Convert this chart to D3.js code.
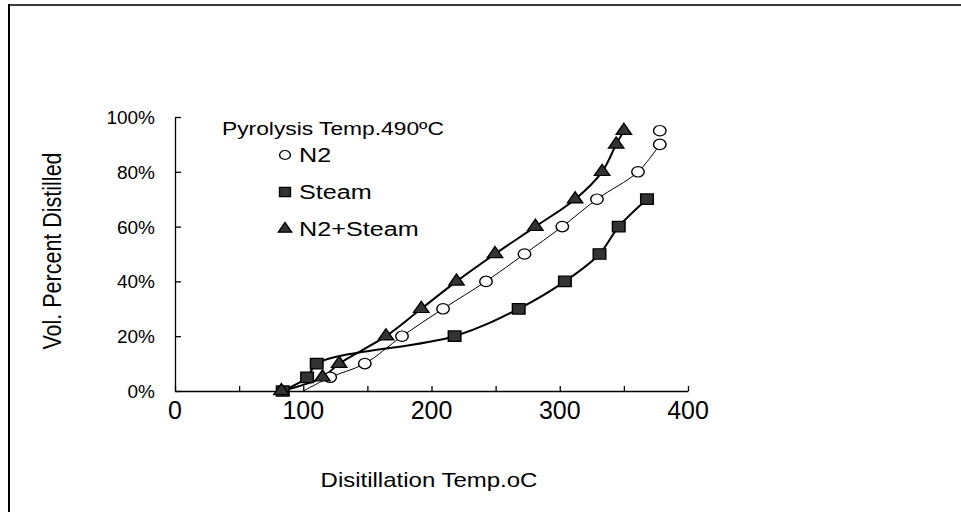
<!DOCTYPE html>
<html>
<head>
<meta charset="utf-8">
<script src="https://cdn.jsdelivr.net/npm/d3@7"></script>
<style>
  html, body { margin: 0; padding: 0; background: #fff; }
  svg { display: block; }
  text { font-family: "Liberation Sans", Arial, sans-serif; fill: #000; }
</style>
</head>
<body>
<div id="chart"></div>
<script>
// distillation curves, pyrolysis at 490 C
const n2Temp = [100, 121, 148, 177, 209, 242.5, 272.5, 302, 329, 361, 378];
const n2Vol = [0, 0.05, 0.10, 0.20, 0.30, 0.40, 0.50, 0.60, 0.70, 0.80, 0.90];
const n2ExtraTemp = [378];
const n2ExtraVol = [0.95];

const steamTemp = [84, 103, 110.5, 218, 268, 304, 331, 346, 368];
const steamVol = [0, 0.05, 0.10, 0.20, 0.30, 0.40, 0.50, 0.60, 0.70];

const mixTemp = [83, 115, 128, 164.5, 192, 219.5, 249.5, 281, 312, 333, 344, 350];
const mixVol = [0, 0.05, 0.10, 0.20, 0.30, 0.40, 0.50, 0.60, 0.70, 0.80, 0.90, 0.95];

const xTickLabels = [0, 100, 200, 300, 400];
const yTicks = [0, 0.2, 0.4, 0.6, 0.8, 1.0];
const legendNames = ['N2', 'Steam', 'N2+Steam'];

const width = 961, height = 512;
const sx = 1.2; // picture is stretched sideways

const svg = d3.select('#chart').append('svg')
  .attr('width', width)
  .attr('height', height);

// frame
svg.append('line').attr('x1', 8).attr('x2', width).attr('y1', 5).attr('y2', 5)
  .attr('stroke', '#3a3a3a').attr('stroke-width', 2);
svg.append('line').attr('x1', 9).attr('x2', 9).attr('y1', 4).attr('y2', height)
  .attr('stroke', '#000').attr('stroke-width', 2);

const x = d3.scaleLinear().domain([0, 400]).range([175, 688]);
const y = d3.scaleLinear().domain([0, 1]).range([391, 117]);

// axes
svg.append('g')
  .attr('transform', `translate(0,${y(0)})`)
  .call(d3.axisBottom(x).tickValues(d3.range(0, 401, 50)).tickSizeInner(-5).tickSizeOuter(0).tickFormat(''))
  .call(g => g.selectAll('path, line').attr('stroke', '#000').attr('stroke-width', 1.3));

svg.append('g')
  .attr('transform', `translate(${x(0)},0)`)
  .call(d3.axisLeft(y).tickValues(yTicks).tickSizeInner(-6).tickSizeOuter(0).tickFormat(''))
  .call(g => g.selectAll('path, line').attr('stroke', '#000').attr('stroke-width', 1.3));

// tick labels
svg.selectAll('text.xlab')
  .data(xTickLabels)
  .join('text')
  .attr('class', 'xlab')
  .attr('text-anchor', 'middle')
  .attr('font-size', 25)
  .attr('transform', d => `translate(${x(d)},419)`)
  .text(d => d);

svg.selectAll('text.ylab')
  .data(yTicks)
  .join('text')
  .attr('class', 'ylab')
  .attr('text-anchor', 'end')
  .attr('font-size', 19)
  .attr('transform', d => `translate(155,${y(d) + 7})`)
  .text(d3.format('.0%'));

// axis titles
svg.append('text')
  .attr('text-anchor', 'middle')
  .attr('font-size', 20)
  .attr('transform', `translate(429,487) scale(${sx},1)`)
  .text('Disitillation Temp.oC');

svg.append('text')
  .attr('text-anchor', 'middle')
  .attr('font-size', 21.5)
  .attr('transform', `translate(61,251) scale(${sx},1) rotate(-90)`)
  .text('Vol. Percent Distilled');

// curves
const toPts = (xs, ys) => xs.map((t, i) => [t, ys[i]]);
const line = d3.line()
  .x(d => x(d[0]))
  .y(d => y(d[1]))
  .curve(d3.curveCatmullRom.alpha(0.5));

const series = [
  { pts: toPts(n2Temp, n2Vol), width: 1, symbol: d3.symbolCircle, size: 85, fill: '#fff' },
  { pts: toPts(steamTemp, steamVol), width: 2, symbol: d3.symbolSquare, size: 110, fill: '#333' },
  { pts: toPts(mixTemp, mixVol), width: 2, symbol: d3.symbolTriangle, size: 72, fill: '#333' }
];

series.forEach(s => {
  svg.append('path')
    .datum(s.pts)
    .attr('fill', 'none')
    .attr('stroke', '#000')
    .attr('stroke-width', s.width)
    .attr('d', line);
});

// markers (first N2 point has none, extra 95% circle is unjoined)
const markerData = [
  { s: series[1], pts: series[1].pts },
  { s: series[0], pts: series[0].pts.slice(1).concat(toPts(n2ExtraTemp, n2ExtraVol)) },
  { s: series[2], pts: series[2].pts }
];

markerData.forEach(m => {
  svg.append('g').selectAll('path')
    .data(m.pts)
    .join('path')
    .attr('d', d3.symbol(m.s.symbol, m.s.size))
    .attr('transform', d => `translate(${x(d[0])},${y(d[1])}) scale(${sx},1)`)
    .attr('fill', m.s.fill)
    .attr('stroke', '#000')
    .attr('stroke-width', 1.2);
});

// legend
const legend = svg.append('g');
legend.append('text')
  .attr('font-size', 19)
  .attr('transform', `translate(222,135) scale(${sx},1)`)
  .text('Pyrolysis Temp.490ºC');

const legendY = [155, 192, 229];
const legendItems = legend.selectAll('g.item')
  .data(legendNames)
  .join('g')
  .attr('class', 'item');

legendItems.append('path')
  .attr('d', (d, i) => d3.symbol(series[i].symbol, series[i].size * 0.75)())
  .attr('transform', (d, i) => `translate(285,${legendY[i]}) scale(${sx},1)`)
  .attr('fill', (d, i) => series[i].fill)
  .attr('stroke', '#000')
  .attr('stroke-width', 1.2);

legendItems.append('text')
  .attr('font-size', 21)
  .attr('transform', (d, i) => `translate(299,${legendY[i] + 7}) scale(${sx},1)`)
  .text(d => d);
</script>
</body>
</html>
